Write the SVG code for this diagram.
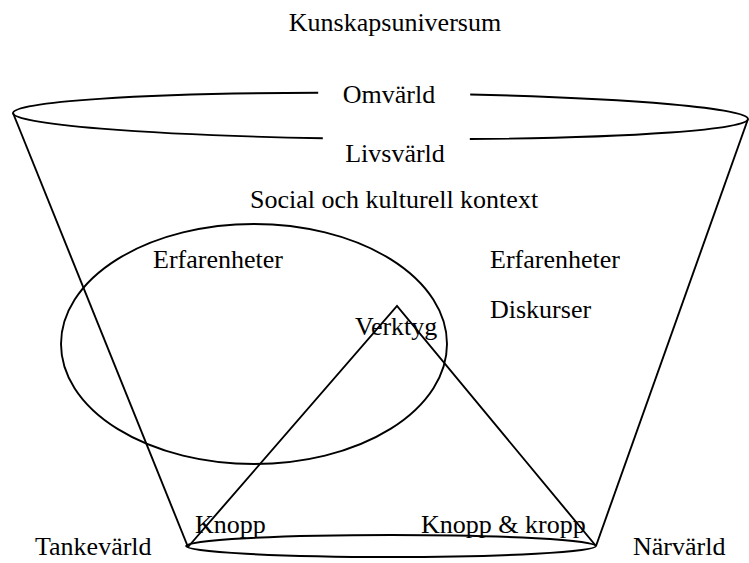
<svg xmlns="http://www.w3.org/2000/svg" width="749" height="563" viewBox="0 0 749 563">
<style>
.s{fill:none;stroke:#000;stroke-width:1.9}
.t{font-family:"Liberation Serif","Times New Roman",serif;font-size:26px;fill:#000}
.m{text-anchor:middle}
</style>
<rect width="749" height="563" fill="#fff"/>
<g id="title"><text class="t m" x="395" y="31">Kunskapsuniversum</text></g>
<g id="omvarld-ellipse">
<path class="s" transform="rotate(0.47 380.5 116)" d="M318,93.3 A367.5 23 0 0 0 13,116 A367.5 23 0 0 0 323,138.7 M470,138.3 A367.5 23 0 0 0 748,116 A367.5 23 0 0 0 470,93.7"/>
<text class="t m" x="389" y="103">Omvärld</text>
<text class="t m" x="395" y="162">Livsvärld</text>
</g>
<g id="social"><text class="t" x="250" y="208">Social och kulturell kontext</text></g>
<g id="erfarenheter-ellipse">
<ellipse class="s" cx="254" cy="344" rx="193" ry="120"/>
<text class="t" x="153" y="268">Erfarenheter</text>
</g>
<g id="right-labels">
<text class="t" x="490" y="268">Erfarenheter</text>
<text class="t" x="490" y="318">Diskurser</text>
</g>
<g id="bottom-ellipse"><ellipse class="s" cx="391" cy="546" rx="205" ry="11"/></g>
<g id="connectors">
<line class="s" x1="13" y1="113" x2="188" y2="547"/>
<line class="s" x1="748" y1="119" x2="596" y2="546"/>
<polyline class="s" points="188,547 397,306 596,546"/>
</g>
<g id="verktyg"><text class="t" x="355" y="335">Verktyg</text></g>
<g id="knopp"><text class="t" x="195" y="533">Knopp</text></g>
<g id="knopp-kropp"><text class="t" x="421" y="533">Knopp &amp; kropp</text></g>
<g id="tankevarld"><text class="t" x="35" y="555">Tankevärld</text></g>
<g id="narvarld"><text class="t" x="633" y="555">Närvärld</text></g>
</svg>
